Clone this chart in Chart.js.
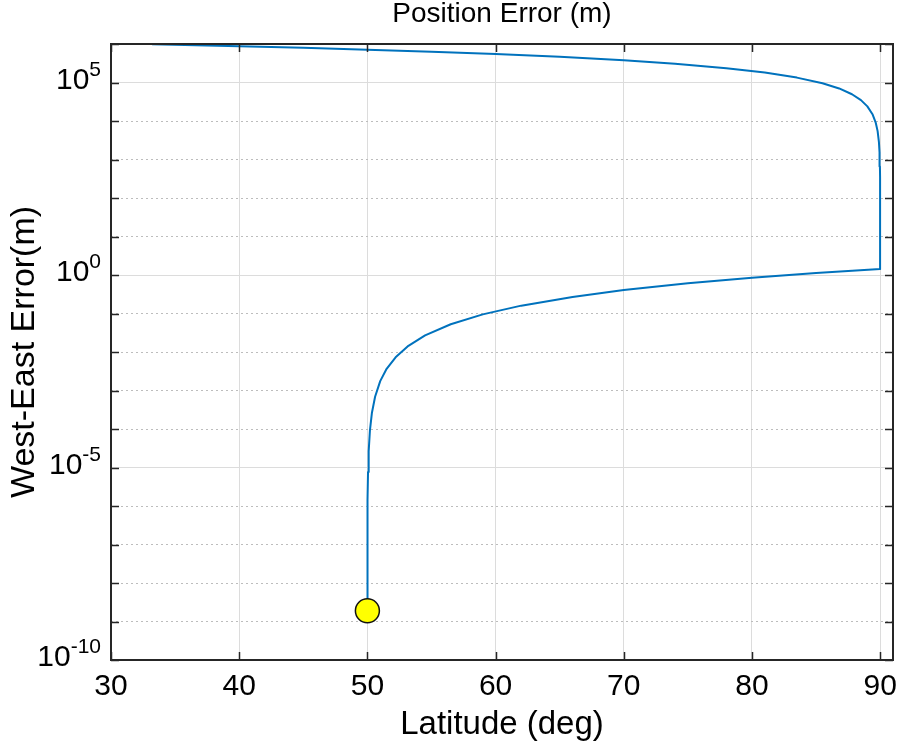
<!DOCTYPE html>
<html>
<head>
<meta charset="utf-8">
<script src="https://cdn.jsdelivr.net/npm/chart.js@4/dist/chart.umd.min.js"></script>
<style>
  html, body { margin: 0; padding: 0; background: #ffffff; }
  #c { display: block; }
</style>
</head>
<body>
<canvas id="c" width="898" height="749"></canvas>
<script>
// ---- Data ----
// Path order: starts at the yellow marker, climbs to 90 deg, jumps up, then runs back to lower latitudes.
const latitude = [
  50.0, 50.002, 50.005, 50.01, 50.02, 50.05, 50.1, 50.2, 50.35, 50.6, 51.0, 51.5, 52.2, 53.2, 54.5,
  56.5, 59.0, 62.0, 66.0, 70.0, 75.0, 80.0, 85.0, 90.0,
  89.995, 89.99, 89.98, 89.95, 89.9, 89.8, 89.65, 89.4, 89.0, 88.5, 87.8, 86.8, 85.5, 83.5, 81.0,
  78.0, 74.0, 70.0, 65.0, 60.0, 55.0, 50.0, 45.0, 40.0, 33.2
];
const westEastError = [
  1.9e-9, 2.2e-8, 1.15e-7, 4.1e-7, 1.43e-6, 7.6e-6, 2.66e-5, 9.4e-5, 2.6e-4, 6.9e-4, 1.75e-3, 3.66e-3, 7.3e-3, 0.0145, 0.027,
  0.0526, 0.095, 0.160, 0.27, 0.406, 0.61, 0.85, 1.12, 1.43,
  182, 347, 656, 1524, 2884, 5458, 9120, 15000, 24000, 34800, 49500, 70000, 95700, 134000, 181000,
  236000, 307000, 378000, 464000, 548000, 631000, 714000, 795000, 877000, 986000
];
const startLatitude = [50.0];
const startError = [1.9e-9];

const xTickValues = [30, 40, 50, 60, 70, 80, 90];
const yDecadeValues = [1e-10, 1e-9, 1e-8, 1e-7, 1e-6, 1e-5, 1e-4, 1e-3, 1e-2, 1e-1, 1, 1e1, 1e2, 1e3, 1e4, 1e5, 1e6];
const yLabelValues = [1e-10, 1e-5, 1, 1e5];
const yLabelBases = ['10', '10', '10', '10'];
const yLabelExponents = ['-10', '-5', '0', '5'];

const FONT = '"Liberation Sans", Arial, "DejaVu Sans", sans-serif';
const AXIS_COLOR = '#262626';

function labelIndex(v) {
  return yLabelValues.findIndex(t => Math.abs(Math.log10(t) - Math.log10(v)) < 1e-6);
}

// box, inward tick marks (MATLAB style)
const boxPlugin = {
  id: 'boxPlugin',
  afterDatasetsDraw(chart) {
    const { ctx, chartArea: a, scales } = chart;
    const x = scales.x, y = scales.y;
    const L = 8;
    ctx.save();
    ctx.strokeStyle = AXIS_COLOR;
    ctx.lineWidth = 1.5;
    ctx.beginPath();
    x.ticks.forEach(t => {
      const px = Math.round(x.getPixelForValue(t.value)) + 0.5;
      ctx.moveTo(px, a.bottom); ctx.lineTo(px, a.bottom - L);
      ctx.moveTo(px, a.top); ctx.lineTo(px, a.top + L);
    });
    y.ticks.forEach(t => {
      const py = Math.round(y.getPixelForValue(t.value)) + 0.5;
      ctx.moveTo(a.left, py); ctx.lineTo(a.left + L, py);
      ctx.moveTo(a.right, py); ctx.lineTo(a.right - L, py);
    });
    ctx.stroke();
    ctx.lineWidth = 2;
    ctx.strokeRect(a.left, a.top, a.right - a.left, a.bottom - a.top);
    ctx.restore();
  }
};

// power-of-ten tick labels with superscript exponents, placed via the y scale
const powerLabelPlugin = {
  id: 'powerLabels',
  afterDraw(chart) {
    const { ctx, chartArea: a, scales } = chart;
    const y = scales.y;
    const right = a.left - 10;
    ctx.save();
    ctx.fillStyle = '#000000';
    ctx.textAlign = 'right';
    ctx.textBaseline = 'alphabetic';
    yLabelValues.forEach((v, i) => {
      const py = y.getPixelForValue(v);
      ctx.font = '21px ' + FONT;
      const ew = ctx.measureText(yLabelExponents[i]).width;
      ctx.fillText(yLabelExponents[i], right, py - 7);
      ctx.font = '30px ' + FONT;
      ctx.fillText(yLabelBases[i], right - ew, py + 6);
    });
    ctx.restore();
  }
};

new Chart(document.getElementById('c'), {
  type: 'scatter',
  data: {
    datasets: [
      {
        label: 'Start',
        data: startLatitude.map((v, i) => ({ x: v, y: startError[i] })),
        showLine: false,
        pointRadius: 12,
        pointBackgroundColor: '#ffff00',
        pointBorderColor: '#111111',
        pointBorderWidth: 1.5,
        order: 0
      },
      {
        label: 'West-East Error',
        data: latitude.map((v, i) => ({ x: v, y: westEastError[i] })),
        showLine: true,
        borderColor: '#0072BD',
        borderWidth: 2,
        borderJoinStyle: 'round',
        pointRadius: 0,
        tension: 0,
        fill: false,
        order: 1
      }
    ]
  },
  options: {
    responsive: false,
    animation: false,
    devicePixelRatio: 1,
    layout: { autoPadding: false, padding: { left: 0, right: 5, top: 0, bottom: 0 } },
    plugins: {
      legend: { display: false },
      tooltip: { enabled: false },
      title: {
        display: true,
        text: 'Position Error (m)',
        fullSize: false,
        color: '#000000',
        font: { family: FONT, size: 28, weight: 'normal', lineHeight: 1.0 },
        padding: { top: 0, bottom: 16 }
      }
    },
    scales: {
      x: {
        type: 'linear',
        position: 'bottom',
        min: 30,
        max: 91,
        afterBuildTicks: s => { s.ticks = xTickValues.map(v => ({ value: v })); },
        afterFit: s => { s.height = 89; s.paddingLeft = 0; s.paddingRight = 0; },
        ticks: {
          autoSkip: false,
          maxRotation: 0,
          padding: 9,
          color: '#000000',
          font: { family: FONT, size: 30 },
          callback: v => String(v)
        },
        grid: { color: '#dcdcdc', lineWidth: 1, drawTicks: false },
        border: { display: false },
        title: {
          display: true,
          text: 'Latitude (deg)',
          color: '#000000',
          font: { family: FONT, size: 33 },
          padding: { top: 0, bottom: 4 }
        }
      },
      y: {
        type: 'logarithmic',
        position: 'left',
        min: 1e-10,
        max: 1e6,
        afterBuildTicks: s => { s.ticks = yDecadeValues.map(v => ({ value: v })); },
        afterFit: s => { s.width = 111; s.paddingTop = 0; s.paddingBottom = 0; },
        ticks: { display: false, autoSkip: false },
        grid: {
          drawTicks: false,
          lineWidth: 1,
          color: c => (c.tick && labelIndex(c.tick.value) >= 0) ? '#dcdcdc' : '#bdbdbd'
        },
        border: {
          display: false,
          dash: c => (c.tick && labelIndex(c.tick.value) < 0) ? [2, 3] : []
        },
        title: {
          display: true,
          text: 'West-East Error(m)',
          color: '#000000',
          font: { family: FONT, size: 34 },
          padding: { top: 4, bottom: 0 }
        }
      }
    }
  },
  plugins: [boxPlugin, powerLabelPlugin]
});
</script>
</body>
</html>
